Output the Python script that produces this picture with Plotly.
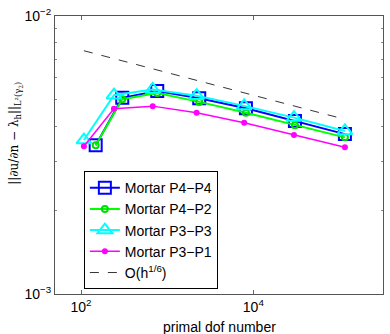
import plotly.graph_objects as go

# dof numbers (P4 and P3 runs use slightly different meshes)
dofs_p4 = [148, 301, 767, 2355, 8200, 30400, 115600]
dofs_p3 = [108, 241, 679, 2198, 7830, 29600, 115600]

err_p4p4 = [3.43e-3, 5.08e-3, 5.37e-3, 5.06e-3, 4.66e-3, 4.19e-3, 3.76e-3]
err_p4p2 = [3.43e-3, 5.02e-3, 5.28e-3, 4.91e-3, 4.49e-3, 4.05e-3, 3.66e-3]
err_p3p3 = [3.58e-3, 5.19e-3, 5.44e-3, 5.17e-3, 4.75e-3, 4.31e-3, 3.86e-3]
err_p3p1 = [3.40e-3, 4.64e-3, 4.74e-3, 4.49e-3, 4.13e-3, 3.73e-3, 3.37e-3]

# reference slope line endpoints
ref_dofs = [108, 115600]
ref_err = [7.5e-3, 4.25e-3]

fig = go.Figure()

fig.add_trace(go.Scatter(x=dofs_p4, y=err_p4p4, name='Mortar P4\u2212P4', mode='lines+markers',
                         line=dict(color='#0000ff', width=2),
                         marker=dict(symbol='square-open', size=12, color='#0000ff', line=dict(width=2))))
fig.add_trace(go.Scatter(x=dofs_p4, y=err_p4p2, name='Mortar P4\u2212P2', mode='lines+markers',
                         line=dict(color='#00ff00', width=2),
                         marker=dict(symbol='circle-open', size=6, color='#00dd00', line=dict(width=2))))
fig.add_trace(go.Scatter(x=dofs_p3, y=err_p3p3, name='Mortar P3\u2212P3', mode='lines+markers',
                         line=dict(color='#00ffff', width=2),
                         marker=dict(symbol='triangle-up-open', size=13, color='#00ffff', line=dict(width=2))))
fig.add_trace(go.Scatter(x=dofs_p3, y=err_p3p1, name='Mortar P3\u2212P1', mode='lines+markers',
                         line=dict(color='#ff00ff', width=1.5),
                         marker=dict(symbol='circle', size=6, color='#ff00ff')))
fig.add_trace(go.Scatter(x=ref_dofs, y=ref_err, name='O(h<sup>1/6</sup>)', mode='lines',
                         line=dict(color='black', width=0.8, dash='dash')))

fig.update_xaxes(type='log', range=[1.698, 5.505], automargin=False,
                 tickvals=[100, 10000], ticktext=['10<sup>2</sup>', '10<sup>4</sup>'],
                 ticks='inside', ticklen=4, tickcolor='#666',
                 showline=True, linecolor='#555', linewidth=1, mirror='ticks',
                 showgrid=False, zeroline=False)
fig.update_yaxes(type='log', range=[-3, -2], automargin=False,
                 tickvals=[0.001, 0.01], ticktext=['10<sup>\u22123</sup>', '10<sup>\u22122</sup>'],
                 ticks='inside', ticklen=4, tickcolor='#666',
                 minor=dict(ticks='inside', ticklen=2, tickcolor='#888',
                            tickvals=[0.002, 0.003, 0.004, 0.005, 0.006, 0.007, 0.008, 0.009]),
                 showline=True, linecolor='#555', linewidth=1, mirror='ticks',
                 showgrid=False, zeroline=False)

# axis titles as annotations so they sit where the original puts them
fig.add_annotation(text='primal dof number', xref='paper', yref='paper',
                   x=0.5, y=-0.118, xanchor='center', yanchor='middle',
                   showarrow=False, font=dict(size=14))
fig.add_annotation(text='||\u2202u/\u2202n \u2212 \u03bb<sub>h</sub>||<sub>L\u00b2(\u03b3<sub>2</sub>)</sub>',
                   xref='paper', yref='paper', x=-0.122, y=0.58, textangle=-90,
                   xanchor='center', yanchor='middle', showarrow=False,
                   font=dict(size=12, family='DejaVu Serif'))

fig.update_layout(width=390, height=334,
                  margin=dict(l=55, r=7, t=16, b=40),
                  paper_bgcolor='white', plot_bgcolor='white',
                  font=dict(family='Liberation Sans, Arial', size=14, color='black'),
                  legend=dict(x=0.088, y=0.442, xanchor='left', yanchor='top',
                              bgcolor='white', bordercolor='black', borderwidth=1,
                              font=dict(size=14), tracegroupgap=0, itemwidth=30),
                  showlegend=True)

# drop the default page margin so the figure sits at the window's corner
fig.write_html("out.html", config={'displayModeBar': False},
               post_script="document.body.style.margin='0';")
